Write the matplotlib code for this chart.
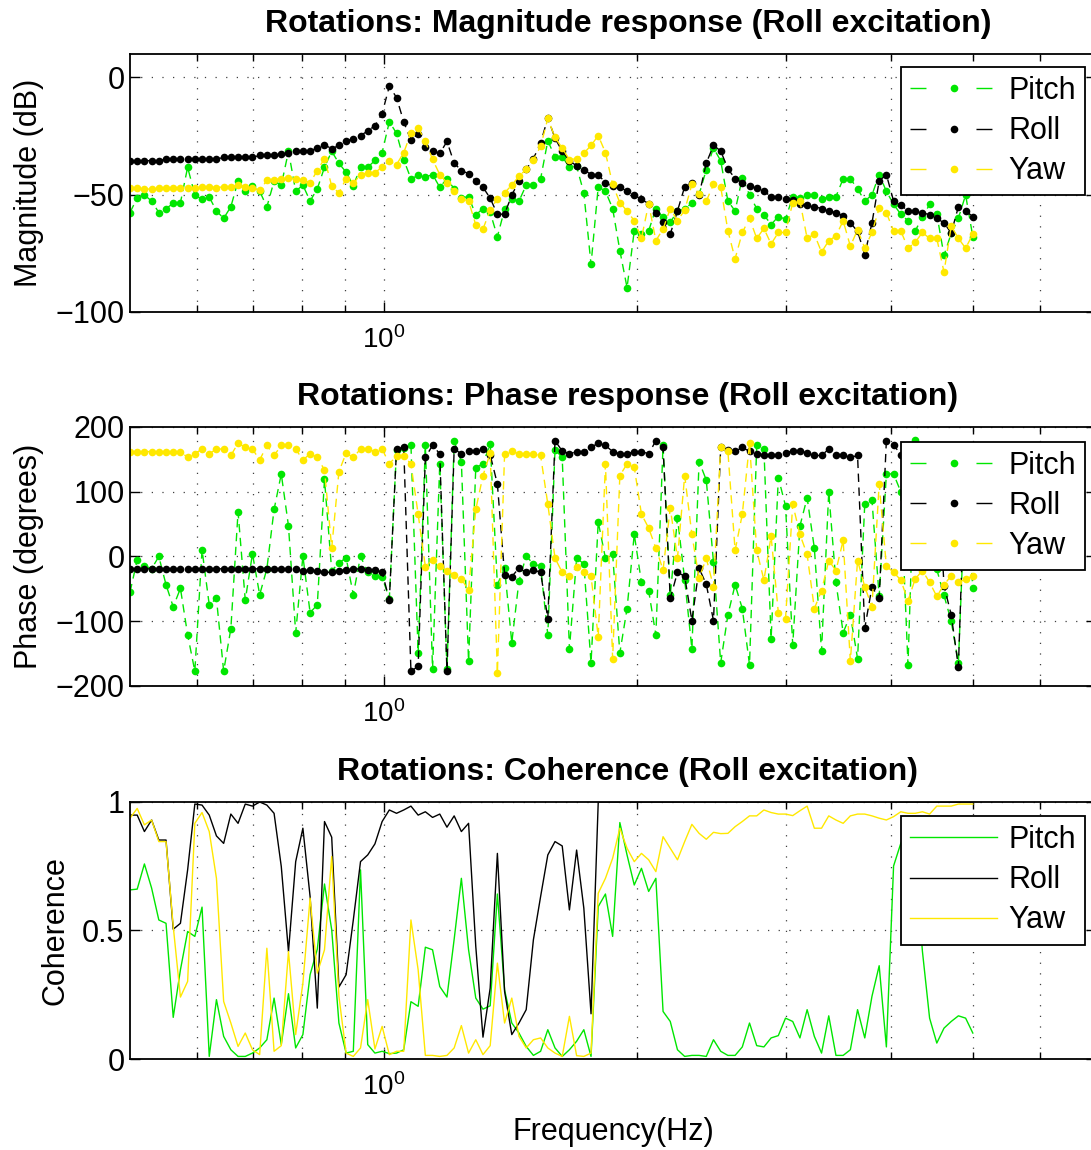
import numpy as np
import matplotlib
import matplotlib.pyplot as plt
from matplotlib.lines import Line2D
from matplotlib.ticker import FixedLocator, NullFormatter

matplotlib.use('Agg')

plt.rcParams['font.family'] = ['Liberation Sans', 'DejaVu Sans']
plt.rcParams['mathtext.fontset'] = 'custom'
plt.rcParams['mathtext.rm'] = 'Liberation Sans'
plt.rcParams['axes.unicode_minus'] = True

# frequency grid (log spaced, 0.5 .. 5 Hz)
freq = np.geomspace(0.5, 5.0, 118)

series_names = ['Pitch', 'Roll', 'Yaw']

# magnitude response (dB)
mag_pitch = [
    -57.6, -51.3, -50.1, -52.7, -57.6, -55.9, -53.7, -53.4, -38.3, -50.1,
    -52.0, -51.0, -56.9, -60.1, -55.1, -44.2, -48.5, -46.3, -48.5, -55.2,
    -44.2, -45.9, -31.5, -48.5, -45.9, -52.7, -47.5, -38.3, -31.5, -36.6,
    -40.4, -46.1, -38.3, -38.3, -35.4, -32.0, -18.9, -23.8, -35.1, -43.2,
    -41.8, -42.5, -41.4, -46.8, -43.2, -47.5, -51.3, -50.8, -58.6, -55.9,
    -57.5, -67.9, -56.2, -51.8, -52.7, -45.9, -45.9, -43.2, -27.0, -33.9,
    -33.8, -38.3, -37.9, -49.2, -79.7, -46.6, -48.5, -55.9, -73.8, -89.6,
    -65.4, -66.8, -65.4, -55.9, -59.7, -61.8, -56.9, -56.2, -53.5, -49.9,
    -39.3, -30.1, -35.5, -52.7, -56.9, -42.8, -50.1, -55.9, -58.6, -62.7,
    -59.3, -60.4, -50.8, -51.3, -50.1, -50.1, -52.0, -50.8, -50.8, -43.2,
    -43.2, -47.5, -52.7, -50.1, -41.4, -48.5, -54.1, -58.3, -61.1, -65.4,
    -59.7, -54.1, -58.3, -75.9, -66.5, -60.0, -50.1, -67.9]
mag_roll = [
    -35.5, -35.5, -35.5, -35.5, -35.5, -34.8, -34.8, -34.8, -34.8, -34.8,
    -34.8, -34.8, -34.8, -34.1, -34.1, -34.1, -34.1, -34.1, -33.2, -33.2,
    -33.2, -32.5, -32.3, -31.3, -31.3, -31.3, -30.1, -28.7, -30.4, -29.0,
    -27.0, -26.2, -24.8, -22.8, -20.6, -15.4, -3.7, -8.6, -18.9, -26.8,
    -24.0, -29.5, -31.5, -32.4, -27.3, -36.5, -39.7, -41.0, -44.2, -46.8,
    -51.5, -58.3, -58.3, -50.1, -44.2, -39.2, -34.6, -28.0, -17.2, -25.9,
    -31.5, -35.5, -37.7, -39.3, -41.4, -41.4, -44.9, -46.3, -46.8, -48.5,
    -50.1, -52.0, -53.8, -57.6, -61.8, -66.8, -56.9, -46.6, -44.9, -50.1,
    -36.5, -29.0, -31.3, -39.0, -43.1, -44.9, -46.1, -47.3, -48.5, -50.8,
    -50.8, -52.0, -52.4, -53.8, -54.4, -55.1, -55.9, -56.9, -57.6, -59.0,
    -62.0, -65.6, -75.5, -62.0, -44.2, -41.4, -52.7, -54.4, -56.9, -56.9,
    -57.6, -58.6, -60.1, -62.0, -66.3, -55.1, -56.9, -59.3]
mag_yaw = [
    -47.0, -47.0, -47.7, -47.5, -47.0, -47.0, -47.0, -47.0, -47.0, -47.0,
    -46.6, -46.6, -47.0, -46.6, -46.6, -45.9, -46.6, -47.0, -48.2, -43.9,
    -43.9, -43.1, -42.8, -43.4, -43.9, -44.9, -39.7, -34.6, -46.3, -49.3,
    -43.1, -45.2, -41.4, -40.6, -40.6, -38.2, -35.8, -37.2, -32.0, -23.8,
    -21.4, -27.3, -34.9, -41.4, -44.9, -48.5, -51.7, -52.7, -62.8, -64.6,
    -56.6, -51.7, -49.2, -45.9, -42.1, -39.2, -35.1, -29.4, -17.5, -25.6,
    -30.1, -35.1, -34.6, -32.3, -29.0, -24.8, -32.0, -45.6, -53.4, -56.9,
    -61.1, -68.6, -53.8, -69.6, -64.6, -55.9, -61.1, -56.6, -45.6, -49.6,
    -52.7, -45.6, -46.6, -65.4, -77.3, -66.1, -60.1, -68.6, -64.4, -71.0,
    -66.1, -66.1, -53.4, -52.7, -68.6, -66.8, -74.5, -69.6, -67.6, -61.1,
    -72.0, -64.9, -72.7, -66.1, -55.8, -57.7, -65.4, -65.4, -72.8, -70.3,
    -66.1, -68.6, -68.6, -83.0, -63.4, -68.6, -72.8, -66.8]

# phase response (degrees)
ph_pitch = [
    -55, -5.2, -14, -19, 0, -43.5, -77.8, -49.2, -121, -177,
    10.4, -74.7, -64.8, -177, -111.5, 69, -67.4, 4.1, -59, -19,
    72.6, 127.5, 47.2, -117.7, 0.5, -86.6, -74.7, 119, -22, -10,
    -2, -59, 0.5, -24.4, -29.5, -32, -65, 165, 168, 172,
    -148.8, 171.6, -173.7, 143, -173.7, 177.8, 146.7, -161.7, 137.4, 143,
    174.2, -43.5, -17.6, -133, -37.3, 0.5, -11.4, -15, -121.3, 164.9,
    153, -142.6, -2.6, -11.4, -164.3, 53.4, -2.6, 3.1, -148.8, -80.4,
    34.2, -40, -52.9, -121.3, 171.6, -60, 59.6, -35.8, -142.6, 146.7,
    118, -8.8, -164.3, -90.2, -43.5, -80.4, -167.4, 171.6, 166, -127,
    121.8, 78.3, -136.9, 47.2, 90.7, 13, -146.2, 100, -40, -117.7,
    -90.2, -157.6, 80.9, 87.1, -61.7, 127.5, 127.5, 100, -167, 180,
    60, 20, -20, -60, -100, -164, 120, -49]
ph_roll = [
    -19, -19, -19, -19, -19, -19, -19, -19, -19, -19,
    -19, -19, -19, -19, -19, -19, -19, -19, -19, -19,
    -19, -19, -19, -19, -22.8, -20.7, -22.8, -24.4, -24.4, -22.3,
    -20.2, -19.2, -19.2, -20.7, -20.7, -24.4, -66.9, 165.9, 168.5, -177.3,
    -169.5, 153, 171.6, 158.6, -177, 166, 158.6, 163, 163, 166,
    157, 112, -28, -31, -18, -24.4, -20.7, -24.4, -96, 178.8,
    163, 158.6, 162, 162, 168.5, 175.2, 171.6, 162, 158.6, 158.6,
    162, 162, 158.6, 178.8, 168.5, -64.8, -24.4, -30.6, -99, -18.1,
    -43, -99, 168.5, 164.9, 162.3, 168.5, 162.3, 158.6, 156, 156,
    156, 159.7, 163.3, 163.3, 159.7, 156, 156, 166, 156, 156,
    153, 156, -111, -46.7, -64.8, 178.8, 172.6, 157, 160, 160,
    160, 160, 160, -45, -90, -170.6, 170, 160]
ph_yaw = [
    162, 162, 162, 162, 162, 162, 162, 162, 153, 158.6,
    166, 158.6, 166, 166, 156, 175, 168.5, 166, 149, 171.6,
    156, 171.6, 171.6, 166, 149, 158.6, 153, 133.7, 13, 131,
    159.7, 153, 166, 166, 162, 166, 143, 155.5, 155.5, 143,
    65.3, -15.6, -5.2, -14, -22.8, -28, -34.7, -51.8, 72.6, 125,
    159.7, -180, 158.6, 162.3, 158.6, 158.6, 158.6, 156, 81, -2.6,
    -24.4, -30.6, -15.6, -24.4, -30.6, -124, 143, -158, 125, 143,
    138, 65.3, 44, 13, -20.7, 75, -2.6, 125, 34, -33.7,
    -2.6, -46.7, 168.5, 162.3, 9.3, 65.3, 175, 9.3, -36.3, 31,
    -86.6, -96, 81, 34, 3.1, -80.4, -52.9, -6.2, -21.8, 24.9,
    -161.7, -6.2, -46.7, -77.8, 112, -15, -24.4, -36.3, -68.4, -34.7,
    -21.8, -39.9, -61.7, -43.5, -30, -40, -35, -30]

# coherence
coh_pitch = [
    0.658, 0.661, 0.759, 0.665, 0.541, 0.528, 0.162, 0.347, 0.496, 0.477,
    0.591, 0.010, 0.231, 0.088, 0.036, 0.010, 0.010, 0.023, 0.043, 0.075,
    0.237, 0.056, 0.254, 0.043, 0.095, 0.328, 0.427, 0.681, 0.503, 0.140,
    0.023, 0.030, 0.736, 0.056, 0.023, 0.030, 0.021, 0.023, 0.036, 0.223,
    0.205, 0.435, 0.425, 0.282, 0.241, 0.466, 0.703, 0.425, 0.237, 0.194,
    0.207, 0.642, 0.269, 0.140, 0.101, 0.049, 0.014, 0.030, 0.114, 0.043,
    0.010, 0.036, 0.069, 0.114, 0.010, 0.593, 0.642, 0.477, 0.920, 0.794,
    0.677, 0.742, 0.652, 0.703, 0.185, 0.146, 0.036, 0.010, 0.014, 0.014,
    0.010, 0.075, 0.030, 0.014, 0.014, 0.047, 0.140, 0.052, 0.047, 0.082,
    0.091, 0.159, 0.146, 0.082, 0.192, 0.088, 0.023, 0.168, 0.014, 0.014,
    0.036, 0.192, 0.082, 0.244, 0.363, 0.047, 0.751, 0.839, 0.900, 0.800,
    0.420, 0.159, 0.062, 0.120, 0.146, 0.168, 0.159, 0.101]
coh_roll = [
    0.949, 0.949, 0.885, 0.930, 0.852, 0.852, 0.505, 0.528, 0.736, 0.992,
    0.988, 0.949, 0.868, 0.839, 0.953, 0.917, 0.992, 0.984, 1.000, 0.988,
    0.956, 0.749, 0.418, 0.768, 0.898, 0.632, 0.198, 0.924, 0.863, 0.280,
    0.328, 0.541, 0.768, 0.794, 0.837, 0.924, 0.969, 0.956, 0.969, 0.984,
    0.949, 0.962, 0.940, 0.953, 0.902, 0.946, 0.885, 0.917, 0.438, 0.085,
    0.276, 0.800, 0.263, 0.095, 0.140, 0.192, 0.464, 0.632, 0.794, 0.846,
    0.829, 0.580, 0.813, 0.587, 0.176, 1.000, 1.000, 1.000, 1.000, 1.000,
    1.000, 1.000, 1.000, 1.000, 1.000, 1.000, 1.000, 1.000, 1.000, 1.000,
    1.000, 1.000, 1.000, 1.000, 1.000, 1.000, 1.000, 1.000, 1.000, 1.000,
    1.000, 1.000, 1.000, 1.000, 1.000, 1.000, 1.000, 1.000, 1.000, 1.000,
    1.000, 1.000, 1.000, 1.000, 1.000, 1.000, 1.000, 1.000, 1.000, 1.000,
    1.000, 1.000, 1.000, 1.000, 1.000, 1.000, 1.000, 1.000]
coh_yaw = [
    0.937, 0.975, 0.911, 0.930, 0.846, 0.846, 0.516, 0.241, 0.302, 0.917,
    0.959, 0.885, 0.703, 0.224, 0.140, 0.049, 0.101, 0.036, 0.017, 0.431,
    0.030, 0.052, 0.418, 0.095, 0.295, 0.626, 0.334, 0.425, 0.788, 0.244,
    0.023, 0.010, 0.043, 0.231, 0.039, 0.127, 0.017, 0.030, 0.030, 0.541,
    0.347, 0.014, 0.014, 0.010, 0.014, 0.043, 0.130, 0.023, 0.075, 0.017,
    0.052, 0.373, 0.140, 0.237, 0.088, 0.043, 0.075, 0.082, 0.043, 0.023,
    0.010, 0.166, 0.013, 0.010, 0.023, 0.645, 0.703, 0.781, 0.898, 0.820,
    0.768, 0.800, 0.775, 0.729, 0.865, 0.820, 0.775, 0.846, 0.913, 0.878,
    0.855, 0.882, 0.877, 0.878, 0.904, 0.924, 0.946, 0.946, 0.969, 0.959,
    0.953, 0.953, 0.947, 0.966, 0.984, 0.898, 0.898, 0.946, 0.930, 0.917,
    0.946, 0.953, 0.953, 0.946, 0.937, 0.930, 0.943, 0.962, 0.956, 0.956,
    0.962, 0.953, 0.984, 0.984, 0.984, 0.992, 0.992, 0.992]

colors = ['#00e600', 'black', '#ffe800']
DASH = (0, (6, 4))
GRID_LS = (0, (1, 7.5))


def style_axes(ax, ylim, yticks, ylabel, title):
    ax.set_xscale('log')
    ax.set_xlim(0.5, 7.0)
    ax.set_ylim(*ylim)
    ax.set_yticks(yticks)
    ax.xaxis.set_major_locator(FixedLocator([1.0]))
    ax.xaxis.set_minor_locator(FixedLocator([0.6, 0.7, 0.8, 0.9, 2, 3, 4, 5, 6]))
    ax.xaxis.set_minor_formatter(NullFormatter())
    ax.set_xticklabels([r'$\mathregular{10^{0}}$'])
    ax.tick_params(which='both', direction='in', top=True, right=True, width=1)
    ax.tick_params(which='major', length=7)
    ax.tick_params(which='minor', length=5)
    ax.tick_params(axis='y', labelsize=22, pad=4)
    ax.tick_params(axis='x', labelsize=20, pad=10)
    ax.grid(True, which='both', axis='x', linestyle=GRID_LS, color='0.25', lw=0.9)
    ax.grid(True, which='major', axis='y', linestyle=GRID_LS, color='0.25', lw=0.9)
    for sp in ax.spines.values():
        sp.set_linewidth(1.3)
    ax.set_ylabel(ylabel, fontsize=22, labelpad=8)
    ax.set_title(title, fontsize=23, fontweight='bold', pad=16, x=0.5155)


def add_legend(ax, y_anchor, dashed):
    handles = []
    for name, c in zip(series_names, colors):
        if dashed:
            h = Line2D([], [], color=c, lw=1.0, linestyle=(0, (11.5, 36)),
                       marker='o', markersize=5.5, markeredgewidth=0)
        else:
            h = Line2D([], [], color=c, lw=1.0)
        handles.append(h)
    leg = ax.legend(handles, series_names, loc='upper right',
                    bbox_to_anchor=(0.9886, y_anchor), borderaxespad=0,
                    fontsize=22, handlelength=2.85, handletextpad=0.35,
                    labelspacing=0.33, borderpad=0.3, fancybox=False,
                    framealpha=1, edgecolor='black')
    leg.get_frame().set_linewidth(1.3)


fig = plt.figure(figsize=(10.91, 11.5), dpi=100)
ax1 = fig.add_axes([0.11916, 0.7287, 0.8854, 0.22435])
ax2 = fig.add_axes([0.11916, 0.40348, 0.8854, 0.22522])
ax3 = fig.add_axes([0.11916, 0.07913, 0.8854, 0.22348])

for vals, c in zip([mag_pitch, mag_roll, mag_yaw], colors):
    ax1.plot(freq, vals, color=c, lw=1.0, linestyle=DASH, marker='o',
             markersize=5.5, markeredgewidth=0)
style_axes(ax1, (-100, 10), [-100, -50, 0], 'Magnitude (dB)',
           'Rotations: Magnitude response (Roll excitation)')
add_legend(ax1, 0.9496, True)

for vals, c in zip([ph_pitch, ph_roll, ph_yaw], colors):
    ax2.plot(freq, vals, color=c, lw=1.0, linestyle=DASH, marker='o',
             markersize=5.5, markeredgewidth=0)
style_axes(ax2, (-200, 200), [-200, -100, 0, 100, 200], 'Phase (degrees)',
           'Rotations: Phase response (Roll excitation)')
add_legend(ax2, 0.9432, True)

for vals, c in zip([coh_pitch, coh_roll, coh_yaw], colors):
    ax3.plot(freq, vals, color=c, lw=1.0)
style_axes(ax3, (0, 1), [0, 0.5, 1], 'Coherence',
           'Rotations: Coherence (Roll excitation)')
ax3.set_yticklabels(['0', '0.5', '1'])
ax3.set_xlabel('Frequency(Hz)', fontsize=22, labelpad=12)
add_legend(ax3, 0.9455, False)

fig.savefig('out.png', dpi=100)
plt.close(fig)
